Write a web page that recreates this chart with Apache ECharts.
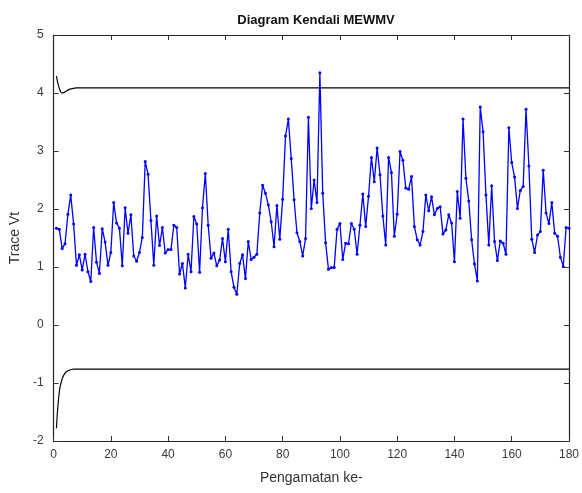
<!DOCTYPE html>
<html>
<head>
<meta charset="utf-8">
<script src="https://cdn.jsdelivr.net/npm/echarts@6/dist/echarts.min.js"></script>
<style>
  html, body { margin: 0; padding: 0; background: #fff; }
  #main { width: 582px; height: 493px; }
</style>
</head>
<body>
<div id="main"></div>
<script>
// nilai Trace Vt untuk pengamatan ke-1 .. ke-180
const traceVt = [
  1.67, 1.65, 1.32, 1.40, 1.91, 2.24, 1.74, 1.03, 1.21, 0.95,
  1.22, 0.92, 0.75, 1.68, 1.08, 0.89, 1.66, 1.43, 1.03, 1.25,
  2.11, 1.76, 1.67, 1.02, 2.02, 1.58, 1.90, 1.19, 1.10, 1.25,
  1.51, 2.82, 2.60, 1.80, 1.03, 1.88, 1.37, 1.68, 1.24, 1.30,
  1.30, 1.72, 1.68, 0.88, 1.06, 0.64, 1.22, 0.92, 1.87, 1.74,
  0.91, 2.02, 2.61, 1.72, 1.15, 1.24, 1.02, 1.12, 1.49, 1.09,
  1.65, 0.92, 0.65, 0.53, 1.06, 1.21, 0.80, 1.44, 1.13, 1.17,
  1.22, 1.93, 2.41, 2.27, 2.07, 1.78, 1.35, 2.06, 1.48, 2.17,
  3.26, 3.55, 2.87, 2.16, 1.59, 1.44, 1.19, 1.49, 3.58, 2.01,
  2.50, 2.11, 4.35, 2.27, 1.42, 0.96, 0.99, 0.99, 1.65, 1.75,
  1.13, 1.41, 1.40, 1.75, 1.65, 1.22, 1.72, 2.26, 1.70, 2.22,
  2.89, 2.47, 3.05, 2.59, 1.88, 1.38, 2.89, 2.63, 1.53, 1.91,
  2.99, 2.84, 2.36, 2.34, 2.56, 1.70, 1.47, 1.38, 1.61, 2.24,
  1.97, 2.21, 1.90, 2.01, 2.04, 1.57, 1.64, 1.90, 1.76, 1.09,
  2.30, 1.84, 3.55, 2.53, 2.14, 1.47, 1.05, 0.76, 3.76, 3.33,
  2.24, 1.38, 2.40, 1.44, 1.11, 1.45, 1.41, 1.22, 3.40, 2.80,
  2.55, 2.01, 2.32, 2.39, 3.72, 2.74, 1.48, 1.25, 1.55, 1.61,
  2.67, 1.93, 1.75, 2.11, 1.58, 1.53, 1.17, 1.01, 1.68, 1.67
];

// batas kendali: awal berubah, sesudahnya tetap
const uclStart = [4.29, 4.08, 4.00, 4.02, 4.05, 4.07, 4.08];
const uclSteady = 4.09;
const lclStart = [-1.78, -1.15, -0.93, -0.83, -0.79, -0.77, -0.76];
const lclSteady = -0.76;

const xTicks = [0, 20, 40, 60, 80, 100, 120, 140, 160, 180];
const yTicks = [-2, -1, 0, 1, 2, 3, 4, 5];

let vtData = [];
let uclData = [];
let lclData = [];
traceVt.forEach((v, i) => {
  let n = i + 1;
  vtData.push([n, v]);
  uclData.push([n, i < uclStart.length ? uclStart[i] : uclSteady]);
  lclData.push([n, i < lclStart.length ? lclStart[i] : lclSteady]);
});

const fontName = 'Liberation Sans, Arial, sans-serif';
const labelFont = { fontFamily: fontName, fontSize: 12, color: '#3a3a3a' };

function tick() {
  return { show: true, inside: true, length: 5, lineStyle: { color: '#333', width: 1 } };
}
function axLine() {
  return { show: true, onZero: false, lineStyle: { color: '#222', width: 1.2 } };
}

let chart = echarts.init(document.getElementById('main'), null, { renderer: 'canvas' });

const option = {
  animation: false,
  backgroundColor: '#fff',
  title: {
    text: 'Diagram Kendali MEWMV',
    left: 311,
    top: 9,
    textAlign: 'center',
    textStyle: { fontFamily: fontName, fontSize: 13, fontWeight: 'bold', color: '#111' }
  },
  grid: { left: 52, right: 12, top: 35, bottom: 52 },
  xAxis: [
    {
      type: 'value', min: xTicks[0], max: xTicks[xTicks.length - 1], interval: 20,
      axisLine: axLine(), axisTick: tick(), splitLine: { show: false },
      axisLabel: Object.assign({ margin: 8 }, labelFont),
      name: 'Pengamatan ke-', nameLocation: 'middle', nameGap: 30,
      nameTextStyle: { fontFamily: fontName, fontSize: 14, color: '#333' }
    },
    {
      type: 'value', position: 'top', min: 0, max: 180, interval: 20,
      axisLine: axLine(), axisTick: tick(), axisLabel: { show: false }, splitLine: { show: false }
    }
  ],
  yAxis: [
    {
      type: 'value', min: yTicks[0], max: yTicks[yTicks.length - 1], interval: 1,
      axisLine: axLine(), axisTick: tick(), splitLine: { show: false },
      axisLabel: Object.assign({ margin: 10 }, labelFont),
      name: 'Trace Vt', nameLocation: 'middle', nameGap: 30,
      nameTextStyle: { fontFamily: fontName, fontSize: 14, color: '#333' }
    },
    {
      type: 'value', position: 'right', min: -2, max: 5, interval: 1,
      axisLine: axLine(), axisTick: tick(), axisLabel: { show: false }, splitLine: { show: false }
    }
  ],
  series: [
    {
      name: 'UCL', type: 'line', data: uclData, smooth: 0.4, symbol: 'none',
      lineStyle: { color: '#000', width: 1.2 }, z: 2
    },
    {
      name: 'LCL', type: 'line', data: lclData, smooth: 0.4, symbol: 'none',
      lineStyle: { color: '#000', width: 1.2 }, z: 2
    },
    {
      name: 'Trace Vt', type: 'line', data: vtData, symbol: 'circle', symbolSize: 3,
      showAllSymbol: true,
      lineStyle: { color: '#0000ff', width: 1.3 },
      itemStyle: { color: '#0000ff' }, z: 3
    }
  ]
};

chart.setOption(option);
</script>
</body>
</html>
